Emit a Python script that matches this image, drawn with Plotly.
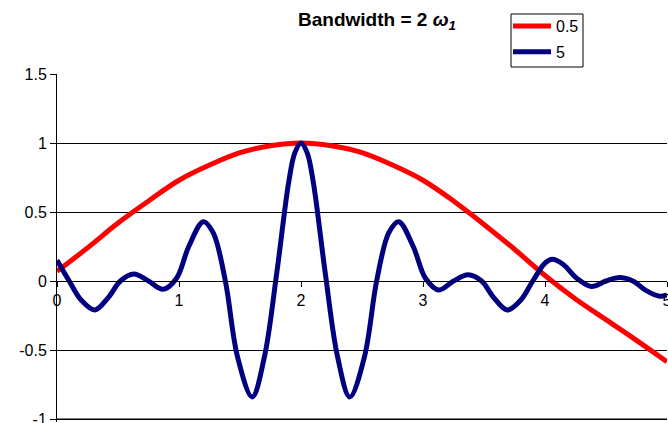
import plotly.graph_objects as go

# Red series (bandwidth 0.5)
red_x = [0.0, 0.25, 0.5, 0.75, 1.0, 1.25, 1.5, 1.75, 2.0, 2.25, 2.5, 2.75, 3.0,
         3.25, 3.5, 3.75, 4.0, 4.25, 4.5, 4.75, 5.0]
red_y = [0.07, 0.24, 0.42, 0.58, 0.73, 0.84, 0.93, 0.98, 1.0, 0.98, 0.93, 0.84, 0.73,
         0.58, 0.41, 0.23, 0.04, -0.13, -0.28, -0.43, -0.585]

# Blue series (bandwidth 5)
blue_x = [0.00, 0.10, 0.20, 0.31, 0.42, 0.52, 0.63, 0.75, 0.87, 0.98, 1.08, 1.20, 1.28,
          1.38, 1.48, 1.60, 1.70, 1.80, 1.90, 1.95, 2.00, 2.05, 2.10, 2.20, 2.30, 2.40,
          2.52, 2.62, 2.72, 2.80, 2.92, 3.02, 3.13, 3.25, 3.37, 3.48, 3.58, 3.69, 3.80,
          3.90, 4.00, 4.06, 4.15, 4.26, 4.38, 4.50, 4.61, 4.72, 4.83, 4.94, 5.00]
blue_y = [0.15, 0.00, -0.14, -0.21, -0.12, 0.00, 0.05, 0.00, -0.06, 0.02, 0.25, 0.43, 0.35,
          0.00, -0.55, -0.84, -0.55, 0.05, 0.72, 0.93, 1.00, 0.93, 0.72, 0.05, -0.55, -0.84,
          -0.55, 0.00, 0.35, 0.43, 0.25, 0.02, -0.065, 0.00, 0.045, 0.00, -0.12, -0.21, -0.14,
          0.00, 0.13, 0.157, 0.12, 0.02, -0.04, 0.00, 0.025, 0.00, -0.07, -0.11, -0.10]

x_ticks = [0, 1, 2, 3, 4, 5]
y_ticks = [-1, -0.5, 0, 0.5, 1, 1.5]
y_tick_labels = ["-1", "-0.5", "0", "0.5", "1", "1.5"]

FONT = "Liberation Sans, Arial, sans-serif"

W, H = 668, 423
ML, MR, MT, MB = 57, 1, 74, 1
PW, PH = W - ML - MR, H - MT - MB
Y_TOP = 1.5
Y_BOT = Y_TOP - PH / 138.0   # 138 px per unit, as in the reference
X_AXIS_POS = (0 - Y_BOT) / (Y_TOP - Y_BOT)


def px_x(p):  # pixel -> paper x
    return (p - ML) / PW


def px_y(p):  # pixel -> paper y
    return (H - MB - p) / PH


fig = go.Figure()
fig.add_trace(go.Scatter(x=red_x, y=red_y, mode="lines", name="0.5",
                         legendgroup="a",
                         line=dict(color="#FF0000", width=5, shape="spline", smoothing=1.0)))
fig.add_trace(go.Scatter(x=blue_x, y=blue_y, mode="lines", name="5",
                         legendgroup="b",
                         line=dict(color="#000080", width=5, shape="spline", smoothing=1.0)))

fig.update_layout(
    width=W, height=H,
    margin=dict(l=ML, r=MR, t=MT, b=MB),
    paper_bgcolor="white", plot_bgcolor="white",
    font=dict(family=FONT, size=16, color="black"),
    title=dict(text="<b>Bandwidth = 2 <i>ω<sub>1</sub></i></b>",
               x=377/W, xref="container", xanchor="center",
               y=1-19/H, yref="container", yanchor="middle",
               font=dict(family=FONT, size=19, color="black")),
    showlegend=True,
    legend=dict(x=px_x(508), y=px_y(9), xanchor="left", yanchor="top",
                bgcolor="rgba(0,0,0,0)", borderwidth=0,
                font=dict(family=FONT, size=16, color="black"),
                itemwidth=38, tracegroupgap=2),
    shapes=[dict(type="rect", xref="paper", yref="paper",
                 x0=px_x(511), x1=px_x(583), y0=px_y(67), y1=px_y(14),
                 line=dict(color="black", width=1), fillcolor="white", layer="above"),
            dict(type="line", xref="paper", yref="y", x0=0, x1=1, y0=-1, y1=-1,
                 line=dict(color="black", width=1), layer="below")],
    xaxis=dict(range=[0, 5], tickvals=x_ticks, ticktext=[str(v) for v in x_ticks],
               showgrid=False, zeroline=False, showline=True, linecolor="black", linewidth=1,
               ticks="outside", ticklen=5, tickcolor="black",
               anchor="free", position=X_AXIS_POS, automargin=False,
               ticklabeloverflow="allow",
               tickfont=dict(family=FONT, size=16, color="black")),
    yaxis=dict(range=[Y_BOT, Y_TOP], tickvals=y_ticks, ticktext=y_tick_labels,
               showgrid=True, gridcolor="black", gridwidth=1,
               zeroline=False, showline=True, linecolor="black", linewidth=1,
               ticks="outside", ticklen=6, tickcolor="black", automargin=False,
               ticklabeloverflow="allow",
               tickfont=dict(family=FONT, size=16, color="black")),
)

fig.write_html("out.html", config={"displayModeBar": False},
               post_script="document.body.style.margin='0px';")
